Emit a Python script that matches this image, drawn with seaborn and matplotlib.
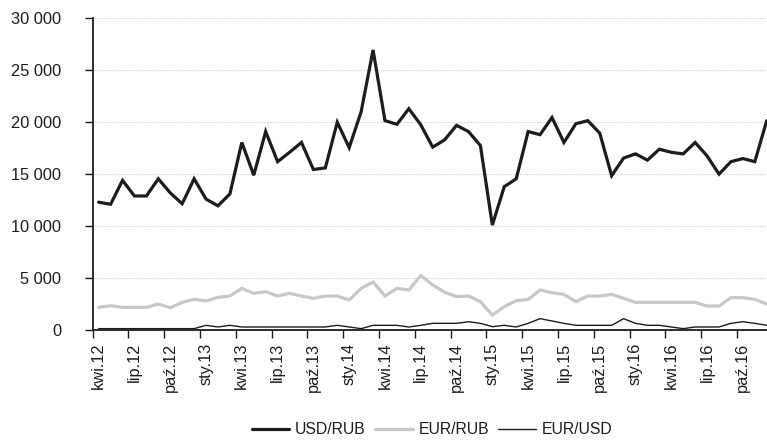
import matplotlib
matplotlib.use("Agg")
import matplotlib.pyplot as plt
import matplotlib.ticker as mticker
import numpy as np
import pandas as pd
import seaborn as sns

# ---- data (monthly, kwi.12 .. gru.16) ----
month_abbr = ["sty", "lut", "mar", "kwi", "maj", "cze", "lip", "sie", "wrz", "paź", "lis", "gru"]
start_year = 2012
start_month = 4  # April
n_months = 57

usd_rub = [12300, 12100, 14400, 12900, 12900, 14550, 13200, 12150, 14550, 12600, 11950, 13100,
           18050, 14900, 19100, 16200, 17100, 18050, 15450, 15600, 20000,
           17550, 21000, 26950, 20150, 19800, 21300, 19750, 17600, 18300, 19700, 19100, 17750,
           10100, 13800, 14550, 19100, 18800, 20450, 18050, 19850, 20150, 18950, 14850, 16550,
           16950, 16350, 17400, 17100, 16950, 18050, 16750, 15000, 16200, 16500, 16200, 20150]

eur_rub = [2180, 2340, 2180, 2180, 2180, 2500, 2150, 2660, 2950, 2790, 3140, 3270,
           4010, 3530, 3690, 3270, 3530, 3270, 3050, 3270, 3270,
           2890, 4010, 4620, 3270, 4010, 3850, 5250, 4330, 3630, 3210, 3270, 2730,
           1440, 2250, 2820, 2950, 3850, 3590, 3430, 2730, 3270, 3270, 3430, 3050,
           2660, 2660, 2660, 2660, 2660, 2660, 2310, 2310, 3110, 3110, 2950, 2500]

eur_usd = [130, 130, 130, 130, 130, 130, 130, 130, 130, 450, 290, 450,
           290, 290, 290, 290, 290, 290, 290, 290, 450,
           290, 130, 450, 450, 450, 290, 450, 640, 640, 640, 800, 640,
           320, 450, 290, 640, 1090, 870, 640, 450, 450, 450, 450, 1090,
           640, 450, 450, 290, 130, 290, 290, 290, 640, 800, 640, 450]

series_names = ["USD/RUB", "EUR/RUB", "EUR/USD"]
series_colors = ["#1c1c1c", "#c8c8c8", "#1c1c1c"]
series_widths = [2.3, 2.3, 1.0]

# category labels
labels = []
for i in range(n_months):
    m = (start_month - 1 + i) % 12
    y = start_year + (start_month - 1 + i) // 12
    labels.append(f"{month_abbr[m]}.{str(y)[2:]}")

idx = np.arange(n_months)
df = pd.DataFrame({"idx": np.tile(idx, 3),
                   "value": usd_rub + eur_rub + eur_usd,
                   "series": np.repeat(series_names, n_months)})

sns.set_theme(style="white")
plt.rcParams["font.family"] = ["Liberation Sans", "DejaVu Sans"]

fig = plt.figure(figsize=(7.67, 4.41), dpi=100)
ax = fig.add_axes([92.7 / 767, 1 - 330 / 441, (772.7 - 92.7) / 767, (330 - 18.3) / 441])

for name, col, lw in zip(series_names, series_colors, series_widths):
    sub = df[df["series"] == name]
    sns.lineplot(data=sub, x="idx", y="value", color=col, linewidth=lw, ax=ax,
                 label=name, legend=False, solid_joinstyle="miter")

ax.set_xlim(-0.5, n_months - 0.5)
ax.set_ylim(0, 30000)
ax.set_xlabel("")
ax.set_ylabel("")

# y axis
ax.yaxis.set_major_locator(mticker.MultipleLocator(5000))
ax.yaxis.set_major_formatter(mticker.FuncFormatter(lambda v, p: f"{int(v):,}".replace(",", " ")))
ax.tick_params(axis="y", which="major", length=5.5, width=1.0, color="#1c1c1c",
               pad=17, labelsize=11.8, labelcolor="#1c1c1c", left=True)
ax.grid(axis="y", color="#dcdcdc", linestyle=(0, (2, 1)), linewidth=0.8)
ax.grid(axis="x", visible=False)

# x axis: major ticks at category boundaries, labels at category centers (minor)
ax.xaxis.set_major_locator(mticker.FixedLocator(np.arange(-0.5, n_months, 3)))
ax.xaxis.set_major_formatter(mticker.NullFormatter())
ax.xaxis.set_minor_locator(mticker.FixedLocator(idx[::3]))
ax.xaxis.set_minor_formatter(mticker.FixedFormatter(labels[::3]))
ax.tick_params(axis="x", which="major", length=5.5, width=1.0, color="#1c1c1c", bottom=True)
ax.tick_params(axis="x", which="minor", length=0, pad=9, labelsize=11.8,
               labelcolor="#1c1c1c", labelrotation=90, bottom=True)
for lbl in ax.get_xticklabels(minor=True):
    lbl.set_verticalalignment("top")

for s in ["top", "right"]:
    ax.spines[s].set_visible(False)
for s in ["left", "bottom"]:
    ax.spines[s].set_color("#1c1c1c")
    ax.spines[s].set_linewidth(1.3)

handles, lbls = ax.get_legend_handles_labels()
fig.legend(handles, lbls, loc="center", bbox_to_anchor=(432 / 767, 1 - 430 / 441),
           ncol=3, frameon=False, fontsize=11.3, handlelength=2.4, handletextpad=0.35,
           columnspacing=0.6, labelcolor="#1c1c1c")

fig.savefig("out.png", dpi=100)
